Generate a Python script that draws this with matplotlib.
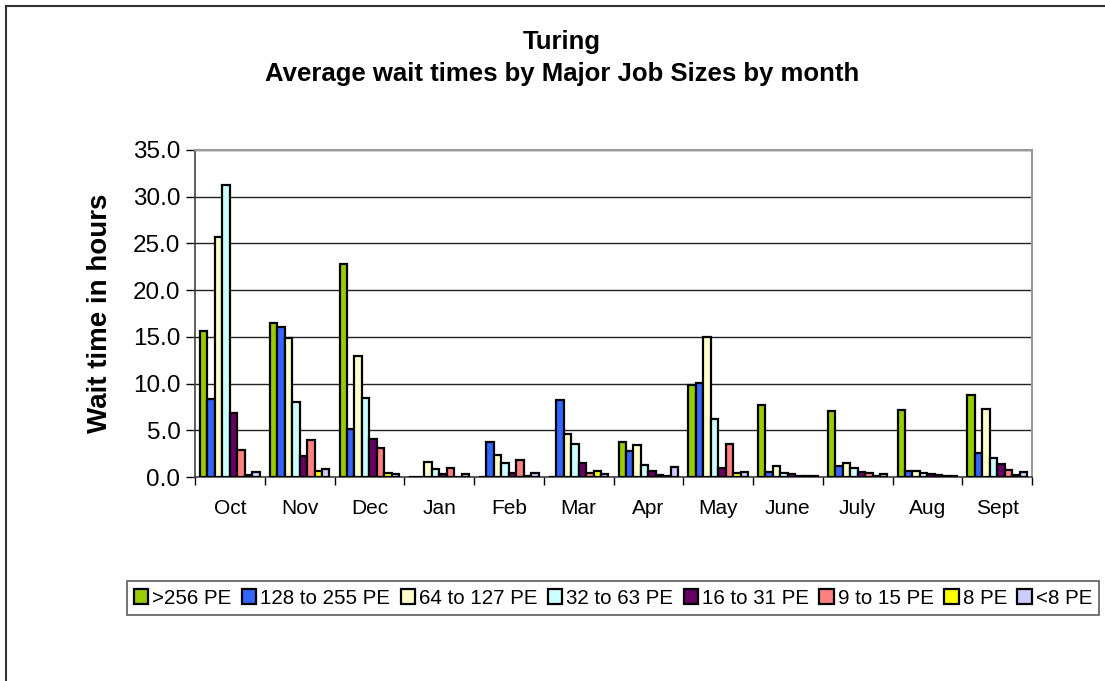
import numpy as np
import matplotlib
matplotlib.use("Agg")
import matplotlib.pyplot as plt
from matplotlib.patches import Rectangle

plt.rcParams['font.family'] = ['Liberation Sans', 'DejaVu Sans']

months = ['Oct', 'Nov', 'Dec', 'Jan', 'Feb', 'Mar', 'Apr', 'May', 'June', 'July', 'Aug', 'Sept']
sizes = ['>256 PE', '128 to 255 PE', '64 to 127 PE', '32 to 63 PE',
         '16 to 31 PE', '9 to 15 PE', '8 PE', '<8 PE']
colors = ['#99CC00', '#3366FF', '#FFFFCC', '#CCFFFF', '#660066', '#FF8080', '#FFFF00', '#CCCCFF']

# wait time in hours, one list per job size (Oct .. Sept)
pe_256 = [15.6, 16.5, 22.8, 0.0, 0.0, 0.0, 3.7, 9.8, 7.7, 7.1, 7.15, 8.75]
pe_128 = [8.3, 16.1, 5.1, 0.0, 3.7, 8.25, 2.8, 10.1, 0.55, 1.2, 0.65, 2.55]
pe_64 = [25.7, 14.9, 13.0, 1.65, 2.4, 4.55, 3.4, 15.0, 1.2, 1.5, 0.6, 7.3]
pe_32 = [31.3, 8.0, 8.5, 0.9, 1.5, 3.5, 1.3, 6.2, 0.4, 0.95, 0.4, 2.05]
pe_16 = [6.9, 2.3, 4.1, 0.3, 0.4, 1.55, 0.6, 0.95, 0.3, 0.55, 0.3, 1.4]
pe_9 = [2.9, 4.0, 3.1, 0.95, 1.8, 0.4, 0.25, 3.5, 0.15, 0.4, 0.2, 0.8]
pe_8 = [0.25, 0.6, 0.4, 0.05, 0.1, 0.65, 0.15, 0.4, 0.1, 0.1, 0.15, 0.25]
pe_lt8 = [0.55, 0.9, 0.3, 0.3, 0.45, 0.3, 1.1, 0.55, 0.15, 0.3, 0.15, 0.5]
series = [pe_256, pe_128, pe_64, pe_32, pe_16, pe_9, pe_8, pe_lt8]

W, H = 1105, 681
fig = plt.figure(figsize=(W / 100, H / 100), dpi=100)
fig.patches.append(Rectangle((6 / W, -0.1), 1.2, 1 - 6 / H + 0.1, transform=fig.transFigure,
                             fill=False, edgecolor='#333333', linewidth=1.5))

ax = fig.add_axes([195 / W, 1 - 477 / H, (1032 - 195) / W, (477 - 150) / H])

x = np.arange(len(months))
bw = 0.107
for i, (vals, c) in enumerate(zip(series, colors)):
    ax.bar(x - 4 * bw + (i + 0.5) * bw, vals, bw, color=c, edgecolor='black',
           linewidth=1.6, label=sizes[i], zorder=3)

ax.set_xlim(-0.5, len(months) - 0.5)
ax.set_ylim(0, 35)
ax.set_yticks(np.arange(0, 36, 5))
ax.set_yticklabels([f'{v:.1f}' for v in np.arange(0, 36, 5)], fontsize=17.5)
ax.yaxis.grid(True, color='#222222', linewidth=1.0, zorder=0)
ax.set_xticks(x)
ax.set_xticklabels(months, fontsize=15)
ax.set_xticks(np.arange(-0.5, len(months)), minor=True)
ax.tick_params(axis='x', which='major', length=0, pad=16)
ax.tick_params(axis='x', which='minor', length=6, width=1, direction='out')
ax.tick_params(axis='y', length=6.5, width=1, direction='out', pad=4)

for side in ['top', 'right']:
    ax.spines[side].set_color('#999999')
    ax.spines[side].set_linewidth(1.5)
for side in ['left', 'bottom']:
    ax.spines[side].set_color('#444444')
    ax.spines[side].set_linewidth(1.2)

ax.set_ylabel('Wait time in hours', fontsize=20, fontweight='bold', labelpad=14)

fig.text(562 / W, 1 - 42 / H, 'Turing', ha='center', va='center', fontsize=18.5, fontweight='bold')
fig.text(562 / W, 1 - 74 / H, 'Average wait times by Major Job Sizes by month',
         ha='center', va='center', fontsize=18.5, fontweight='bold')

leg = fig.legend(loc='center', bbox_to_anchor=(613 / W, 1 - 598 / H), ncol=8, fontsize=14.8,
                 frameon=True, fancybox=False, edgecolor='#333333', handlelength=0.7,
                 handleheight=0.7, handletextpad=0.2, columnspacing=0.5, borderpad=0.35)
leg.get_frame().set_linewidth(1.2)

fig.savefig('out.png', dpi=100)
